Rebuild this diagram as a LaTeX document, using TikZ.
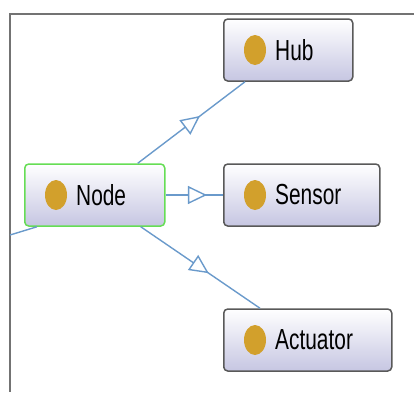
\documentclass[tikz,border=0pt]{standalone}
\usepackage{fontspec}
\usepackage{xcolor}
\usepackage{tikz}
\usetikzlibrary{arrows.meta, decorations.markings}
\newfontfamily\boxfont[FakeStretch=0.72]{Liberation Sans}
\definecolor{edgeblue}{HTML}{6A9ACB}
\definecolor{boxlav}{HTML}{C6C6E2}
\definecolor{dotgold}{HTML}{D2A02C}
\definecolor{selgreen}{HTML}{66DD55}

\begin{document}
\begin{tikzpicture}[x=1pt, y=-1pt,
  box/.style={draw=black!65, line width=1.5pt, rounded corners=4pt, top color=white, bottom color=boxlav,
    minimum height=62pt, anchor=west, inner sep=0pt},
  lbl/.style={font=\boxfont\fontsize{29}{29}\selectfont, anchor=west, inner sep=0pt},
  link/.style={draw=edgeblue, line width=1.4pt, postaction=decorate,
    decoration={markings, mark=at position #1 with {\arrow[line width=1.4pt]{Triangle[length=19pt, width=18pt, fill=white]}}}}]

\useasboundingbox (0,0) rectangle (414,392);

% frame
\draw[black!55, line width=2pt] (9,14)--(414,14);
\draw[black!55, line width=2pt] (10,14)--(10,392);

% boxes
\node[box, minimum width=129pt] (hub) at (223,50) {};
\node[box, minimum width=140pt, draw=selgreen] (node) at (24,195) {};
\node[box, minimum width=156pt] (sensor) at (223,195) {};
\node[box, minimum width=168pt] (actuator) at (223,340) {};

\foreach \n/\t in {hub/Hub, node/Node, sensor/Sensor, actuator/Actuator}{
	\fill[dotgold] ([xshift=32pt]\n.west) ellipse (11 and 15);
	\node[lbl] (\n-text) at ([xshift=52pt]\n.west) {\t};
}

% links
\coordinate (in) at (10,235);
\draw[edgeblue, line width=1.4pt] (in)--([xshift=13pt]node.south west);
\draw[link=0.58] ([xshift=43pt]node.north)--([xshift=22pt]hub.south west);
\draw[link=0.72] (node.east)--(sensor.west);
\draw[link=0.57] ([xshift=46pt]node.south)--([xshift=37pt]actuator.north west);
\end{tikzpicture}
\end{document}
